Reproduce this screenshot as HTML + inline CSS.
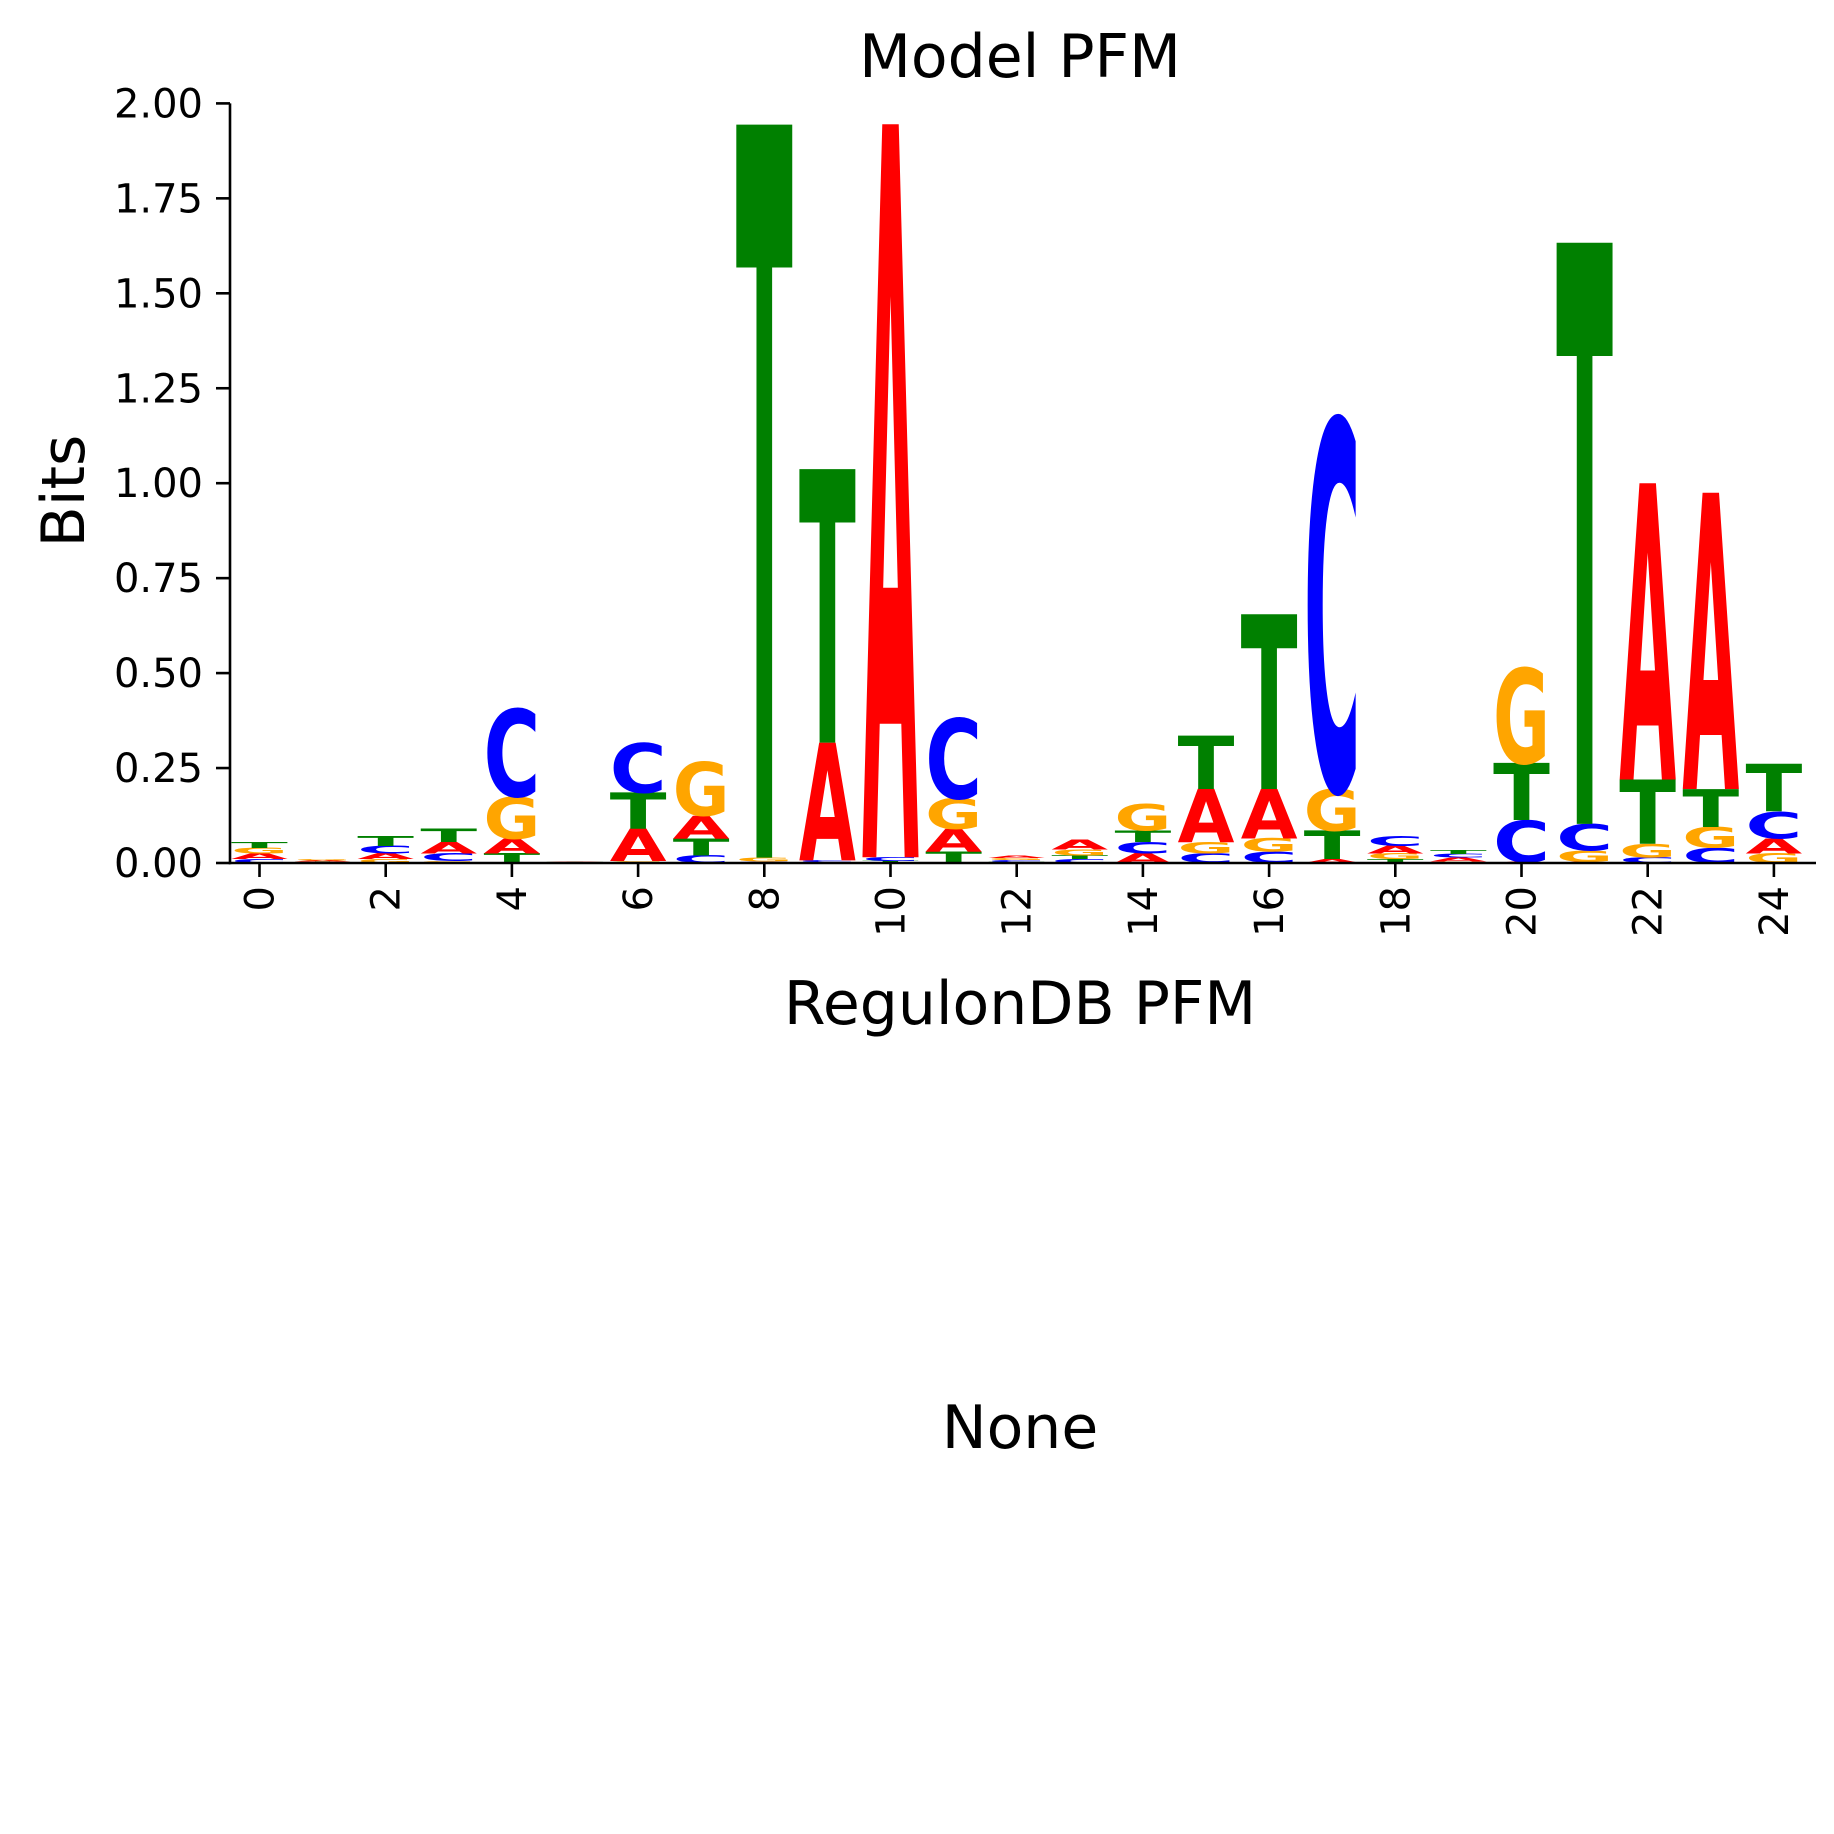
<!DOCTYPE html>
<html><head><meta charset="utf-8"><style>
html,body{margin:0;padding:0;background:#fff;}
svg{display:block;font-family:"DejaVu Sans","Liberation Sans",sans-serif;}
</style></head><body>
<svg id="chart" width="1834" height="1834" viewBox="0 0 1834 1834" xmlns="http://www.w3.org/2000/svg">
<rect width="1834" height="1834" fill="#fff"/>
<text x="1020" y="77" font-size="60" text-anchor="middle">Model PFM</text>
<text transform="translate(84,491) rotate(-90)" font-size="60" text-anchor="middle">Bits</text>
<text x="1020" y="1024" font-size="60" text-anchor="middle">RegulonDB PFM</text>
<text x="1020" y="1448" font-size="60" text-anchor="middle">None</text>
<g id="logo"></g>
<g id="axes"></g>
</svg>
<script>
const positions = [0,1,2,3,4,5,6,7,8,9,10,11,12,13,14,15,16,17,18,19,20,21,22,23,24];
const letters = ["A","C","G","T"];
const bitsA = [0.015,0.003,0.015,0.03,0.04,0.002,0.085,0.06,0.002,0.31,1.93,0.06,0.007,0.025,0.025,0.14,0.13,0.01,0.02,0.01,0.003,0.003,0.78,0.78,0.04];
const bitsC = [0.01,0.002,0.02,0.02,0.23,0.001,0.13,0.02,0.002,0.005,0.01,0.21,0.005,0.01,0.03,0.025,0.03,0.97,0.025,0.01,0.11,0.07,0.015,0.04,0.07];
const bitsG = [0.015,0.003,0.01,0.005,0.11,0.001,0.005,0.14,0.01,0.002,0.002,0.08,0.005,0.015,0.07,0.03,0.035,0.11,0.015,0.004,0.25,0.03,0.035,0.055,0.025];
const bitsT = [0.015,0.002,0.025,0.035,0.025,0.001,0.095,0.045,1.93,0.72,0.003,0.03,0.003,0.01,0.03,0.14,0.46,0.075,0.01,0.01,0.15,1.53,0.17,0.1,0.125];
const yTicks = [0,0.25,0.5,0.75,1.0,1.25,1.5,1.75,2.0];
const yTickLabels = ["0.00","0.25","0.50","0.75","1.00","1.25","1.50","1.75","2.00"];
const xTicks = [0,2,4,6,8,10,12,14,16,18,20,22,24];

const NS="http://www.w3.org/2000/svg";
const X0=259.5, XU=63.1, Y0=863, YU=379.8;
const xs = v => X0 + v*XU;
const ys = v => Y0 - v*YU;
const colors = {A:"#ff0000",C:"#0000ff",G:"#ffa500",T:"#008000"};
const series = {A:bitsA,C:bitsC,G:bitsG,T:bitsT};
const logo = document.getElementById('logo');
const CAP = 72.9;
positions.forEach((p,i)=>{
  const stack = letters.map(l=>({l, v:series[l][i]})).sort((a,b)=>a.v-b.v);
  let base = 0;
  stack.forEach(s=>{
    if(s.v<=0){return;}
    const yb = ys(base), h = s.v*YU;
    const w = 0.9*XU;
    const t = document.createElementNS(NS,'text');
    
    
    t.setAttribute('x', 0);
    t.setAttribute('y', 0);
    t.setAttribute('font-size', 100);
    t.setAttribute('font-weight', 'bold');
    t.setAttribute('textLength', w);
    t.setAttribute('lengthAdjust', 'spacingAndGlyphs');
    t.setAttribute('fill', colors[s.l]);
    t.setAttribute('transform', 'translate('+(xs(p)-w/2)+','+yb+') scale(1,'+(h/CAP)+')');
    t.textContent = s.l;
    logo.appendChild(t);
    base += s.v;
  });
});
const axes = document.getElementById('axes');
function line(x1,y1,x2,y2,name){
  const l=document.createElementNS(NS,'line');
  
  
  l.setAttribute('x1',x1);l.setAttribute('y1',y1);l.setAttribute('x2',x2);l.setAttribute('y2',y2);
  l.setAttribute('stroke','#000');l.setAttribute('stroke-width',2.6);
  axes.appendChild(l);
}
line(230, ys(2), 230, Y0+1.3, 'y-axis-spine');
line(228.7, Y0, 1816, Y0, 'x-axis-spine');
yTicks.forEach((v,i)=>{
  line(216, ys(v), 230, ys(v), 'y-tick');
  const t=document.createElementNS(NS,'text');
  
  
  t.setAttribute('x',203);t.setAttribute('y',ys(v)+14);
  t.setAttribute('font-size',40);t.setAttribute('text-anchor','end');
  t.textContent=yTickLabels[i];
  axes.appendChild(t);
});
xTicks.forEach(v=>{
  line(xs(v), Y0, xs(v), Y0+14, 'x-tick');
  const t=document.createElementNS(NS,'text');
  
  
  t.setAttribute('transform','translate('+(xs(v)+14)+',886) rotate(-90)');
  t.setAttribute('font-size',40);t.setAttribute('text-anchor','end');
  t.textContent=String(v);
  axes.appendChild(t);
});
</script>
</body></html>
